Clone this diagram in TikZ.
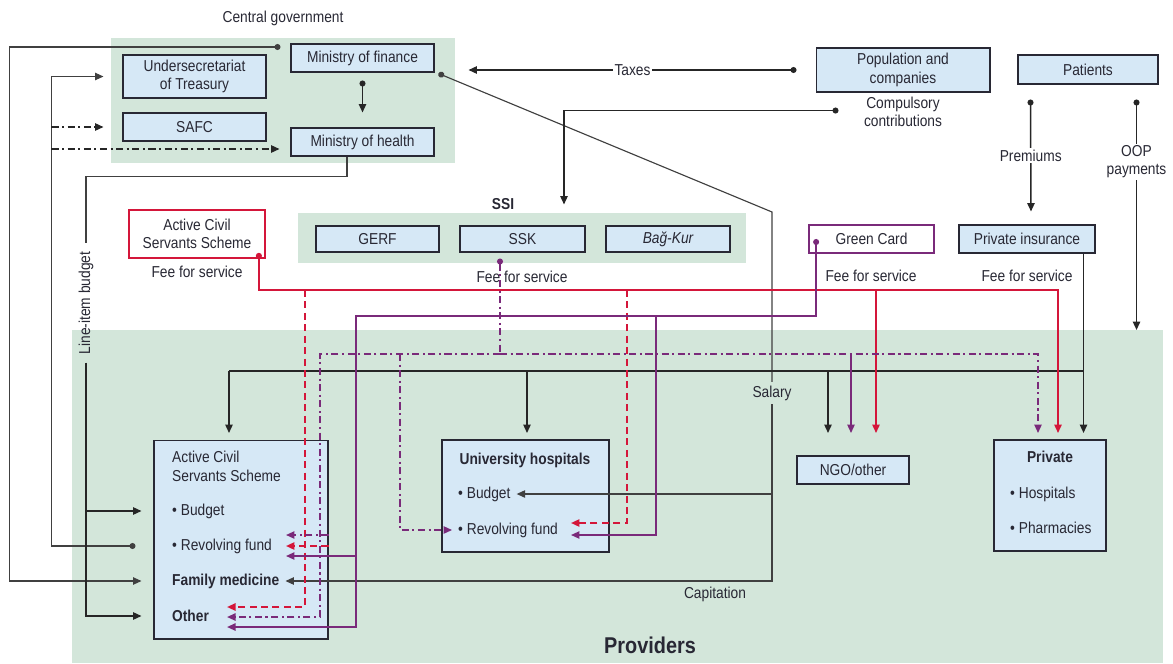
\documentclass[tikz,border=0pt]{standalone}
\usepackage{fontspec}
\setmainfont{Liberation Sans}[FakeStretch=0.87]
\usetikzlibrary{arrows.meta,calc}

\definecolor{govgreen}{RGB}{211,230,218}
\definecolor{boxblue}{RGB}{214,232,246}
\definecolor{txtgray}{RGB}{40,40,52}
\definecolor{ffsred}{RGB}{212,22,58}
\definecolor{gcpurple}{RGB}{122,42,122}

\tikzset{
    fdot/.tip={Circle[length=3.4pt]},
    ftip/.tip={Triangle[length=4.8pt,width=4.2pt]},
    every node/.style={font=\fontsize{9}{10.5}\selectfont, text=txtgray},
    bold/.style={font=\fontsize{9}{10.5}\selectfont\bfseries},
    fundbox/.style={draw=txtgray, fill=boxblue, line width=0.6pt, inner sep=0pt, minimum height=0.56cm, align=center},
    payerbox/.style={fundbox, fill=white, line width=1pt},
    lbl/.style={fill=white, inner sep=1pt, align=center},
    flow/.style={line width=0.85pt, draw=black!85, -ftip},
    thinflow/.style={flow, line width=0.65pt, draw=black!75},
    ddflow/.style={flow, dash pattern=on 4pt off 2pt on 1.2pt off 2pt},
    redflow/.style={flow, draw=ffsred, line width=0.9pt},
    reddash/.style={redflow, dash pattern=on 4pt off 2.5pt},
    gcflow/.style={flow, draw=gcpurple, line width=0.8pt},
    sskflow/.style={gcflow, dash pattern=on 4pt off 2pt on 1.2pt off 2pt},
}

\begin{document}
\begin{tikzpicture}[x=0.02cm, y=-0.02cm]
    \useasboundingbox (0,0) rectangle (1173,663);

    % Areas
    \fill[govgreen] (111,38) rectangle (455,163);
    \fill[govgreen] (298,213) rectangle (746,263);
    \node[fill=govgreen, anchor=north west, inner sep=0pt, minimum width=21.82cm, minimum height=6.66cm] (provs) at (72,330) {};

    % Central government
    \node at (283,18) {Central government};
    \node[fundbox, minimum width=2.86cm] (mof) at (362.5,58) {Ministry of finance};
    \node[fundbox, minimum width=2.86cm, minimum height=0.86cm] (treas) at (194.5,76.5) {Undersecretariat\\of Treasury};
    \node[fundbox, minimum width=2.86cm] (safc) at (194.5,127) {SAFC};
    \node[fundbox, minimum width=2.86cm] (moh) at (362.5,142) {Ministry of health};

    \node[fundbox, minimum width=3.48cm, minimum height=0.88cm] (popc) at (903,70) {Population and\\companies};
    \node[fundbox, minimum width=2.8cm, minimum height=0.58cm] (patients) at (1088,69.5) {Patients};
    \node[align=center] (comp) at (903,112) {Compulsory\\contributions};

    % SSI and other payers
    \node[bold] at (503,204) {SSI};
    \node[fundbox, minimum width=2.46cm, minimum height=0.52cm] (gerf) at (377.5,239) {GERF};
    \node[fundbox, minimum width=2.5cm, minimum height=0.52cm] (ssk) at (522.5,239) {SSK};
    \node[fundbox, minimum width=2.48cm, minimum height=0.52cm] (bagkur) at (668,239) {\itshape Bağ-Kur};

    \node[payerbox, draw=ffsred, minimum width=2.72cm, minimum height=0.96cm] (acss) at (197,234) {Active Civil\\Servants Scheme};
    \node[payerbox, draw=gcpurple, minimum width=2.5cm] (gcard) at (871.5,239) {Green Card};
    \node[fundbox, minimum width=2.72cm] (privins) at (1027,239) {Private insurance};

    \node at (197,272) {Fee for service};
    \node at (522,277) {Fee for service};
    \node at (871,276) {Fee for service};
    \node at (1027,276) {Fee for service};

    % Providers
    \node[fundbox, minimum width=3.48cm, minimum height=3.98cm] (pacss) at (241,539.5) {};
    \node[fundbox, minimum width=3.34cm, minimum height=2.24cm] (uni) at (525.5,496) {};
    \node[fundbox, minimum width=2.24cm] (ngo) at (853,470) {NGO/other};
    \node[fundbox, minimum width=2.24cm, minimum height=2.22cm] (priv) at (1050,495.5) {};

    \node[anchor=north west, align=left, font=\fontsize{9}{11}\selectfont] (ptitle) at (166,445) {Active Civil\\Servants Scheme};
    \node[anchor=west] (bud1) at (166,511) {\textbullet\ Budget};
    \node[anchor=west] (rev1) at (166,546) {\textbullet\ Revolving fund};
    \node[anchor=west, bold] (fam) at (166,581) {Family medicine};
    \node[anchor=west, bold] (oth) at (166,616) {Other};

    \node[bold] (utitle) at (525,460) {University hospitals};
    \node[anchor=west] (ubud) at (452,494) {\textbullet\ Budget};
    \node[anchor=west] (urev) at (452,530) {\textbullet\ Revolving fund};

    \node[bold] (ptitle2) at (1050,457) {Private};
    \node[anchor=west] (phosp) at (1004,494) {\textbullet\ Hospitals};
    \node[anchor=west] (pharm) at (1004,528) {\textbullet\ Pharmacies};

    \node[font=\fontsize{13}{15}\selectfont\bfseries] at (650,645) {Providers};

    % Taxes and budget lines
    \coordinate (pin) at ($(pacss.west)+(-12,0)$);
    \draw[flow, fdot-ftip] ($(mof.south)+(0,8)$) -- ($(moh.north)+(0,-15)$);
    \draw[flow, fdot-ftip] ($(popc.west)+(-19,0)$) -- node[lbl] {Taxes} ($(mof.east)+(34,12)$);
    \draw[thinflow, fdot-ftip] ($(mof.west)+(-10,-11)$) -- ++(-271,0) |- (pin |- fam);
    \draw[thinflow, fdot-ftip] ($(pin |- rev1)+(-6,0)$) -- ++(-84,0) |- ($(treas.west)+(-19,0)$);
    \draw[ddflow] ($(safc.west)+(-71,0)$) -- ($(safc.west)+(-19,0)$);
    \draw[ddflow] ($(safc.west)+(-71,22)$) -- ($(moh.west)+(-11,7)$);

    \node[rotate=90, inner sep=0.16cm] (lib) at (86,303) {Line-item budget};
    \draw[thinflow, -] ($(moh.south)+(-15.5,0)$) |- ++(-261,20) -- (lib.east);
    \draw[flow] (lib.west) |- (pin |- oth);
    \draw[flow] (lib.west |- bud1) -- (pin |- bud1);

    % Salary and capitation
    \node[fill=govgreen, inner sep=2pt] (sal) at (772,393) {Salary};
    \coordinate (bend) at (772,212);
    \draw[thinflow, fdot-] ($(mof.south east)+(4,1)$) -- (bend) -- (sal.north);
    \draw[thinflow] (sal.south) |- (fam.east);
    \draw[thinflow] (sal.south |- ubud) -- (ubud.east);
    \node at (715,594) {Capitation};

    % Contributions, premiums, out of pocket
    \draw[flow, fdot-ftip] ($(popc.south west)+(23,18)$) -| ($(ssk.north)+(41.5,-21)$);
    \draw[flow, fdot-ftip] ($(patients.south west)+(13,15)$) -- node[lbl] {Premiums} ($(privins.north)+(4,-13)$);
    \draw[flow, fdot-ftip] ($(patients.south east)+(-22,15)$) coordinate (oop) -- node[lbl, pos=0.27] {OOP\\payments} (oop |- provs.north);

    % Private insurance to all providers
    \coordinate (pi) at ($(privins.south east)+(-12,0)$);
    \draw[flow] (pi) -- (pi |- 0,433);
    \draw[flow, -] (pi |- 0,371) -- (229,371);
    \foreach \x in {229,527,828}
        \draw[flow] (\x,371) -- (\x,433);

    % Active Civil Servants Scheme, fee for service
    \draw[redflow, fdot-ftip] ($(acss.south east)+(-7,-6)$) |- (1058,290) -- (1058,433);
    \draw[redflow] (876,290) -- (876,433);
    \draw[reddash] (305,290) |- ($(oth.east)+(12,-9)$);
    \draw[reddash] (pacss.east |- rev1) -- ($(rev1.east)+(8,0)$);
    \draw[reddash] (627,290) |- ($(urev.east)+(7,-7)$);

    % SSI, fee for service
    \draw[sskflow, fdot-] ($(ssk.south)+(-22.5,6)$) -- (500,354);
    \draw[sskflow] (500,354) -| (320,617) -- ($(oth.east)+(12,1)$);
    \draw[sskflow] (500,354) -| (1038,433);
    \draw[sskflow] (400,354) |- (urev.west);
    \draw[sskflow] ($(pacss.east |- rev1)+(0,-11)$) -- ($(rev1.east)+(8,-11)$);
    \draw[gcflow] (851,354) -- (851,433);

    % Green Card, fee for service
    \draw[gcflow, fdot-ftip] ($(gcard.west)+(8,0)$) |- (356,316) |- ($(oth.east)+(12,11)$);
    \draw[gcflow] (356,556) -- ($(rev1.east)+(8,10)$);
    \draw[gcflow] (656,316) |- ($(urev.east)+(7,5)$);
\end{tikzpicture}
\end{document}
